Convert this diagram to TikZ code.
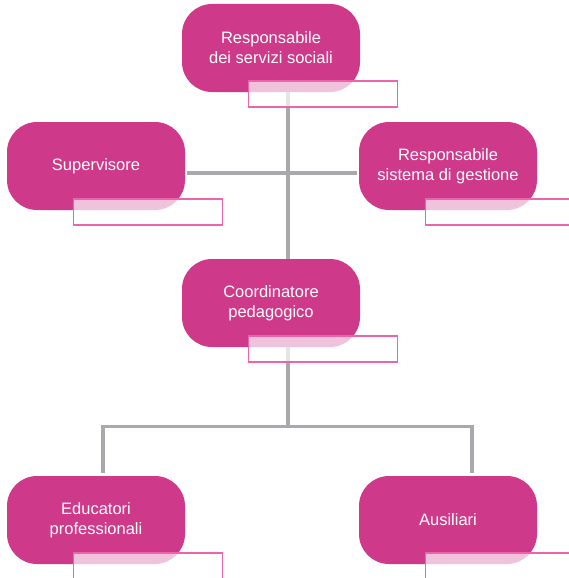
\documentclass[tikz,border=0pt]{standalone}
\usepackage{fontspec}
\setmainfont{Liberation Sans}
\usepackage{tikz}
\usetikzlibrary{positioning,calc}

\definecolor{orgmagenta}{RGB}{207,57,138}
\definecolor{tagpink}{RGB}{236,100,170}
\definecolor{linkgray}{RGB}{167,169,172}

\begin{document}
\begin{tikzpicture}[x=1pt, y=1pt,
    role/.style={rectangle, rounded corners=30pt, fill=orgmagenta, text=white, minimum width=178pt, minimum height=88pt, inner sep=0pt, align=center, font=\fontsize{16.5}{20}\selectfont},
    tag/.style={rectangle, draw=tagpink, line width=1.6pt, fill=white, fill opacity=0.7, minimum width=149pt, minimum height=26pt, inner sep=0pt, anchor=north west},
    link/.style={draw=linkgray, line width=3.2pt}]
        \useasboundingbox (0,0) rectangle (568,-578);

        % Roles
        \node [role] (resp) at (271,-48) {Responsabile\\dei servizi sociali};
        \node [role] (sup) at (96,-166) {Supervisore};
        \node [role] (sist) at (448,-166) {Responsabile\\sistema di gestione};
        \node [role] (coord) at (271,-303) {Coordinatore\\pedagogico};
        \node [role] (edu) at (96,-520) {Educatori\\professionali};
        \node [role] (aus) at (448,-520) {Ausiliari};

        % Connectors
        \draw [link] ([xshift=17pt]resp.south) -- ([xshift=17pt]coord.north);
        \draw [link, shorten <=2pt, shorten >=2pt] ([yshift=-7pt]sup.east) -- ([yshift=-7pt]sist.west);
        \coordinate (split) at ([xshift=17pt, yshift=-79pt]coord.south);
        \draw [link] ([xshift=17pt]coord.south) -- (split);
        \draw [link] ([xshift=7pt, yshift=3pt]edu.north) |- (split) -| ([xshift=24pt, yshift=3pt]aus.north);

        % Name tags
        \foreach \n in {resp, sup, sist, coord, edu, aus}
            \node [tag] (\n tag) at ([xshift=66pt, yshift=12pt]\n.south west) {};
    \end{tikzpicture}
\end{document}
